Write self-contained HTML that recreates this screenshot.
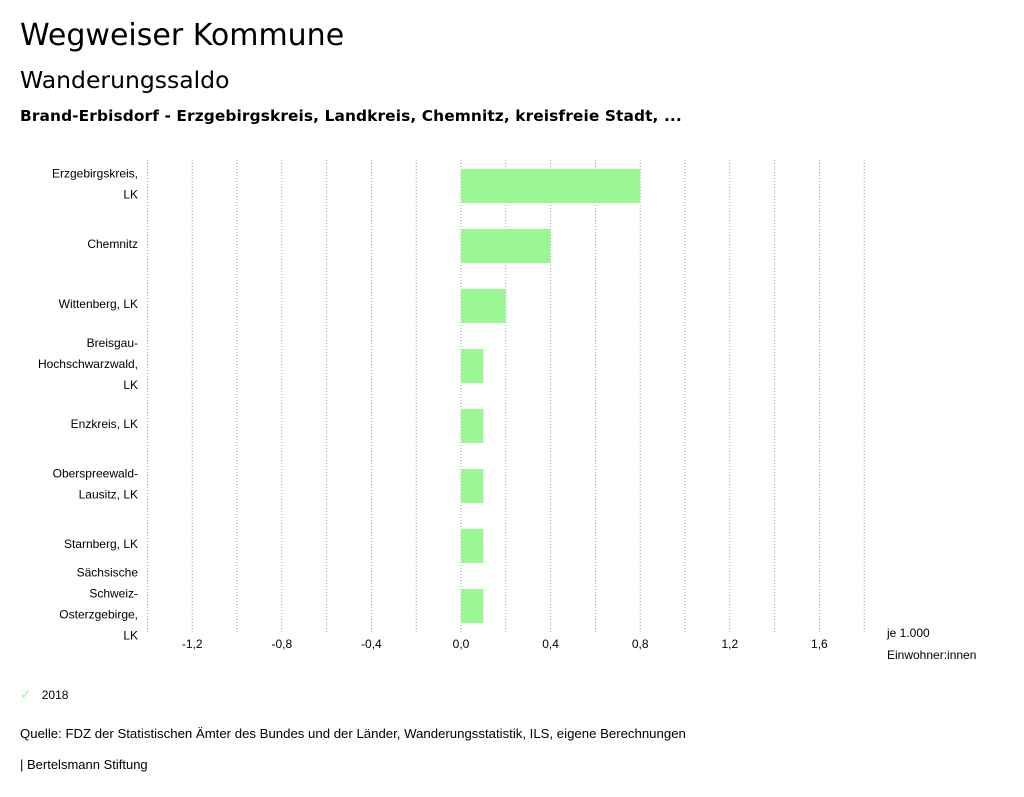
<!DOCTYPE html>
<html><head><meta charset="utf-8"><style>
body{margin:0;background:#fff;font-family:"Liberation Sans","DejaVu Sans",sans-serif;color:#000}
#wrap{position:relative;width:1024px;height:797px;overflow:hidden}
.t{position:absolute;white-space:nowrap}
</style></head><body><div id="wrap">
<div class="t" style="left:20px;top:18px;font-size:30px;font-family:'DejaVu Sans',sans-serif">Wegweiser Kommune</div>
<div class="t" style="left:20px;top:66px;font-size:23.5px;font-family:'DejaVu Sans',sans-serif">Wanderungssaldo</div>
<div class="t" style="left:20px;top:107px;font-size:15.4px;font-weight:bold;letter-spacing:0.1px;font-family:'DejaVu Sans',sans-serif">Brand-Erbisdorf - Erzgebirgskreis, Landkreis, Chemnitz, kreisfreie Stadt, ...</div>
<svg id="chart" width="1024" height="797" style="position:absolute;left:0;top:0"></svg>
<div class="t" style="left:20px;top:686px;font-size:12px"><span style="color:#9af794;font-size:14px">✓</span>&nbsp;&nbsp;&nbsp;2018</div>
<div class="t" style="left:20px;top:726px;font-size:13.2px">Quelle: FDZ der Statistischen Ämter des Bundes und der Länder, Wanderungsstatistik, ILS, eigene Berechnungen</div>
<div class="t" style="left:20px;top:757px;font-size:13px">| Bertelsmann Stiftung</div>
</div>
<script>
const categories=[["Erzgebirgskreis,","LK"],["Chemnitz"],["Wittenberg, LK"],["Breisgau-","Hochschwarzwald,","LK"],["Enzkreis, LK"],["Oberspreewald-","Lausitz, LK"],["Starnberg, LK"],["Sächsische","Schweiz-","Osterzgebirge,","LK"]];
const values=[0.8,0.4,0.2,0.1,0.1,0.1,0.1,0.1];
const tickValues=[-1.2,-0.8,-0.4,0,0.4,0.8,1.2,1.6];
const gridValues=[-1.4,-1.2,-1.0,-0.8,-0.6,-0.4,-0.2,0,0.2,0.4,0.6,0.8,1.0,1.2,1.4,1.6,1.8];
const NS="http://www.w3.org/2000/svg";
const svg=document.getElementById('chart');
const x=v=>461+v*224;
const rowY=i=>186+i*60;
function mk(tag,a){const e=document.createElementNS(NS,tag);for(const k in a)e.setAttribute(k,a[k]);svg.appendChild(e);return e;}
gridValues.forEach(v=>{const l=mk('line',{x1:x(v),x2:x(v),y1:160,y2:632,stroke:'#999','stroke-dasharray':'1,2','stroke-width':1});

});
tickValues.forEach(v=>{const t=mk('text',{x:x(v),y:648,'text-anchor':'middle','font-size':12,'font-family':'Liberation Sans, sans-serif'});
t.textContent=v.toFixed(1).replace('.',',');

});
values.forEach((v,i)=>{const r=mk('rect',{x:Math.min(x(0),x(v)),y:rowY(i)-17,width:Math.abs(x(v)-x(0)),height:34,fill:'#9af794'});

});
categories.forEach((lines,i)=>{const n=lines.length;lines.forEach((s,j)=>{const t=mk('text',{x:138,y:rowY(i)+(j-(n-1)/2)*21+2,'text-anchor':'end','font-size':12,'font-family':'Liberation Sans, sans-serif'});
t.textContent=s;

});});
[["je 1.000",637],["Einwohner:innen",659]].forEach(([s,y])=>{const t=mk('text',{x:887,y:y,'font-size':12,'font-family':'Liberation Sans, sans-serif'});
t.textContent=s;

});
</script></body></html>
